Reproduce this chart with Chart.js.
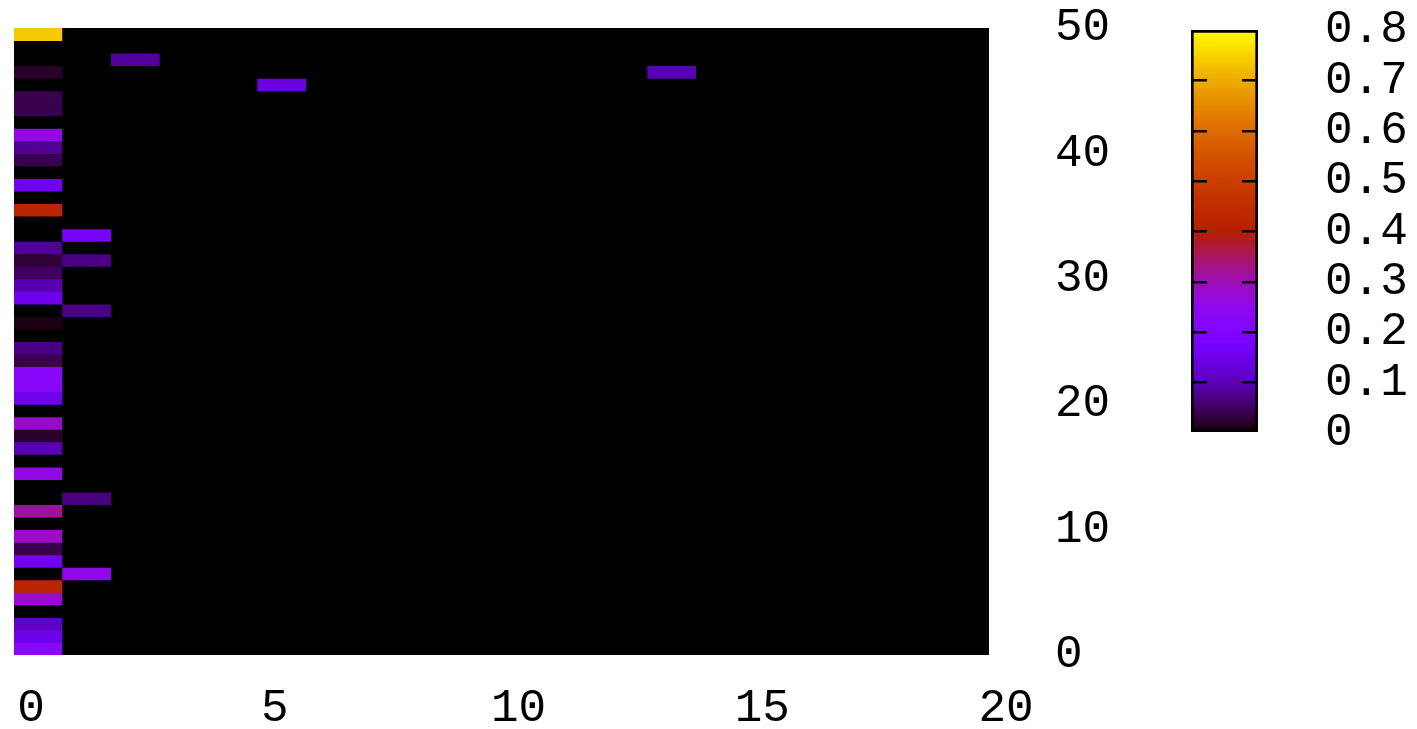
<!DOCTYPE html>
<html>
<head>
<meta charset="utf-8">
<script src="https://cdn.jsdelivr.net/npm/chart.js@4"></script>
<style>
  html, body { margin: 0; padding: 0; background: #fff; }
  #wrap { position: relative; width: 1417px; height: 729px; }
  #heat { position: absolute; left: 0; top: 0; }
  #bar { position: absolute; left: 1150px; top: 0; }
</style>
</head>
<body>
<div id="wrap">
  <canvas id="heat" width="1417" height="729" style="width:1417px;height:729px"></canvas>
  <canvas id="bar" width="267" height="729" style="width:267px;height:729px"></canvas>
</div>
<script>
// grid: 20 columns (x 0..20) by 50 rows (y 0..50)
const columns = Array.from({ length: 20 }, (_, i) => i);
const rows = Array.from({ length: 50 }, (_, i) => i);

// values per row, bottom row first
const col0Values = [
  0.227, 0.149, 0.11, 0, 0.275, 0.42, 0, 0.155, 0.04, 0.29,
  0, 0.315, 0, 0, 0.255, 0, 0.1, 0.022, 0.284, 0,
  0.15, 0.227, 0.227, 0.041, 0.068, 0, 0.008, 0, 0.15, 0.095,
  0.05, 0.028, 0.08, 0, 0, 0.42, 0, 0.155, 0, 0.04,
  0.08, 0.255, 0, 0.04, 0.04, 0, 0.02, 0, 0, 0.74
];
const col1Values = [
  0, 0, 0, 0, 0, 0, 0.255, 0, 0, 0,
  0, 0, 0.065, 0, 0, 0, 0, 0, 0, 0,
  0, 0, 0, 0, 0, 0, 0, 0.068, 0, 0,
  0, 0.068, 0, 0.177, 0, 0, 0, 0, 0, 0,
  0, 0, 0, 0, 0, 0, 0, 0, 0, 0
];
// the few lone cells further right
const otherCols = [2, 5, 13];
const otherRows = [47, 45, 46];
const otherValues = [0.083, 0.138, 0.1];

const cbMax = 0.8;

const font = { family: 'Liberation Mono', size: 46 };
const textColor = '#000';

// gnuplot default palette (rgbformulae 7,5,15)
function palette(v) {
  const f = Math.min(Math.max(v / cbMax, 0), 1);
  const r = Math.sqrt(f);
  const g = f * f * f;
  const b = Math.max(0, Math.sin(2 * Math.PI * f));
  return 'rgb(' + Math.round(r * 255) + ',' + Math.round(g * 255) + ',' + Math.round(b * 255) + ')';
}

function cellValue(c, j) {
  if (c === 0) return col0Values[j];
  if (c === 1) return col1Values[j];
  for (let i = 0; i < otherCols.length; i++) {
    if (otherCols[i] === c && otherRows[i] === j) return otherValues[i];
  }
  return 0;
}

// one floating bar per cell
const cells = [];
const cellColors = [];
columns.forEach(c => {
  rows.forEach(j => {
    cells.push({ x: c + 0.5, y: [j, j + 1] });
    cellColors.push(palette(cellValue(c, j)));
  });
});

new Chart(document.getElementById('heat'), {
  type: 'bar',
  data: {
    datasets: [{
      data: cells,
      backgroundColor: cellColors,
      borderWidth: 0,
      inflateAmount: 0.5,
      barPercentage: 1,
      categoryPercentage: 1
    }]
  },
  options: {
    responsive: false,
    animation: false,
    layout: { padding: { left: 14, top: 28, right: 0, bottom: 0 } },
    plugins: { legend: { display: false }, tooltip: { enabled: false } },
    scales: {
      x: {
        type: 'linear',
        position: 'bottom',
        min: 0,
        max: 20,
        offset: false,
        afterFit: s => { s.height = 74; },
        grid: { offset: false, drawOnChartArea: false, drawTicks: true, tickLength: 26, tickColor: 'rgba(0,0,0,0)' },
        border: { display: false },
        ticks: { stepSize: 5, font: font, color: textColor, padding: 0, labelOffset: 17, maxRotation: 0 }
      },
      y: {
        type: 'linear',
        position: 'right',
        min: 0,
        max: 50,
        afterFit: s => { s.width = 428; },
        grid: { drawOnChartArea: false, drawTicks: true, tickLength: 66, tickColor: 'rgba(0,0,0,0)' },
        border: { display: false },
        ticks: { stepSize: 10, font: font, color: textColor, padding: 0 }
      }
    }
  }
});

// colour box
new Chart(document.getElementById('bar'), {
  type: 'bar',
  data: {
    labels: [''],
    datasets: [{
      data: [[0, cbMax]],
      backgroundColor: ctx => {
        const area = ctx.chart.chartArea;
        if (!area) return '#000';
        const grad = ctx.chart.ctx.createLinearGradient(0, area.bottom, 0, area.top);
        for (let i = 0; i <= 64; i++) grad.addColorStop(i / 64, palette(cbMax * i / 64));
        return grad;
      },
      borderColor: '#000',
      borderWidth: 3,
      borderSkipped: false,
      barPercentage: 1,
      categoryPercentage: 1
    }]
  },
  options: {
    responsive: false,
    animation: false,
    layout: { padding: { left: 41, top: 30, right: 0, bottom: 296 } },
    plugins: { legend: { display: false }, tooltip: { enabled: false } },
    scales: {
      x: { display: false },
      y: {
        position: 'right',
        min: 0,
        max: cbMax,
        afterFit: s => { s.width = 159; },
        grid: {
          drawTicks: true,
          tickLength: 67,
          tickColor: 'rgba(0,0,0,0)',
          // inner tick marks only, none on the top and bottom edges
          color: ctx => (ctx.tick && ctx.tick.value > 0.001 && ctx.tick.value < cbMax - 0.001) ? '#000' : 'rgba(0,0,0,0)',
          lineWidth: 2.5,
          z: 1
        },
        border: { display: false, dash: [16, 35] },
        ticks: { stepSize: 0.1, autoSkip: false, font: font, color: textColor, padding: 0 }
      }
    }
  }
});
</script>
</body>
</html>
